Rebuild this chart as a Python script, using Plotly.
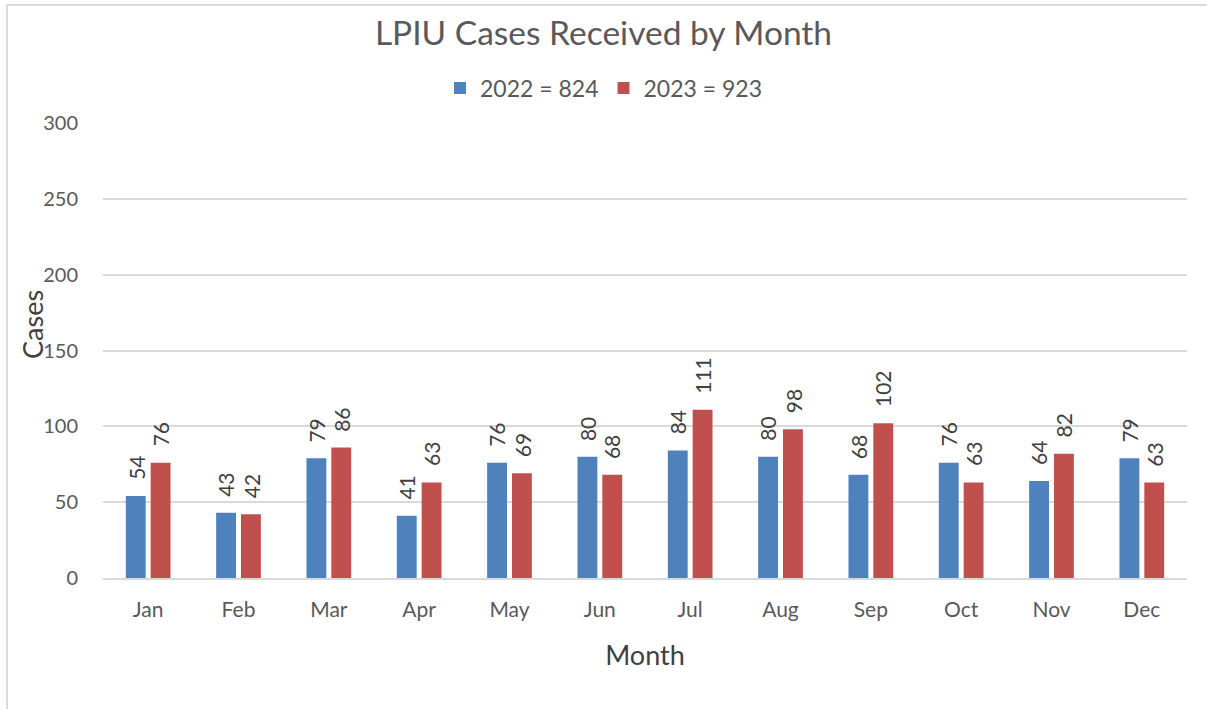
import plotly.graph_objects as go

months = ["Jan", "Feb", "Mar", "Apr", "May", "Jun", "Jul", "Aug", "Sep", "Oct", "Nov", "Dec"]
cases_2022 = [54, 43, 79, 41, 76, 80, 84, 80, 68, 76, 64, 79]
cases_2023 = [76, 42, 86, 63, 69, 68, 111, 98, 102, 63, 82, 63]
name_2022 = "2022 = 824"
name_2023 = "2023 = 923"
y_ticks = [0, 50, 100, 150, 200, 250, 300]

FONT = "Lato, Open Sans, sans-serif"
W, H = 1207, 709
L, R, T, B = 103, 20, 123, 131
pw = W - L - R
ph = H - T - B
BARGAP = 0.45
slot = pw / len(months) * (1 - BARGAP) / 2  # width of each bar slot in px

fig = go.Figure()
annotations = []
for k, (name, vals, color) in enumerate([(name_2022, cases_2022, "#4F81BD"),
                                         (name_2023, cases_2023, "#C0504D")]):
    fig.add_trace(go.Bar(
        x=months, y=vals, name=name,
        marker=dict(color=color, line=dict(width=0)),
    ))
    shift = (k - 0.5) * slot
    for m, v in zip(months, vals):
        annotations.append(dict(
            x=m, y=v, xref="x", yref="y", text=str(v), showarrow=False,
            textangle=-90, xanchor="center", yanchor="bottom",
            xshift=shift, yshift=14,
            font=dict(family=FONT, size=21, color="#404040"),
        ))

# y-axis title placed as in the reference (slightly above plot centre)
annotations.append(dict(
    text="Cases", xref="paper", yref="paper",
    x=(32 - L) / pw, y=(H - B - 325) / ph, xanchor="center", yanchor="middle",
    textangle=-90, showarrow=False,
    font=dict(family=FONT, size=27, color="#404040"),
))

fig.update_layout(
    width=W, height=H,
    margin=dict(l=L, r=R, t=T, b=B, autoexpand=False),
    paper_bgcolor="white", plot_bgcolor="white",
    barmode="group", bargap=BARGAP, bargroupgap=0.2,
    title=dict(text="LPIU Cases Received by Month", x=0.5, xanchor="center",
               y=1 - 33 / H, yanchor="middle",
               font=dict(family=FONT, size=33.5, color="#595959")),
    legend=dict(orientation="h", x=0.5, xref="container", xanchor="center",
                y=1 - 88 / H, yref="container",
                yanchor="middle", font=dict(family=FONT, size=23, color="#595959"),
                traceorder="normal"),
    xaxis=dict(title=dict(text="Month", font=dict(family=FONT, size=27, color="#404040"), standoff=26),
               tickfont=dict(family=FONT, size=21, color="#595959"),
               showline=True, linecolor="#D9D9D9", linewidth=1.5,
               ticks="outside", ticklen=12, tickcolor="rgba(0,0,0,0)", showgrid=False,
               automargin=False),
    yaxis=dict(tickfont=dict(family=FONT, size=20, color="#595959"),
               range=[0, 300], tickvals=y_ticks, showgrid=True, gridcolor="#D9D9D9", gridwidth=1.5,
               zeroline=False, ticks="outside", ticklen=20, tickcolor="rgba(0,0,0,0)",
               automargin=False),
    showlegend=True,
    annotations=annotations,
    shapes=[
        dict(type="line", xref="paper", yref="paper",
             x0=(7 - L) / pw, x1=(W - L) / pw, y0=(H - B - 5) / ph, y1=(H - B - 5) / ph,
             line=dict(color="#D9D9D9", width=2)),
        dict(type="line", xref="paper", yref="paper",
             x0=(7 - L) / pw, x1=(7 - L) / pw, y0=(H - B - 5) / ph, y1=-B / ph,
             line=dict(color="#D9D9D9", width=2)),
    ],
)

fig.write_html("out.html", config={"displayModeBar": False},
               post_script="document.body.style.margin='0';")
